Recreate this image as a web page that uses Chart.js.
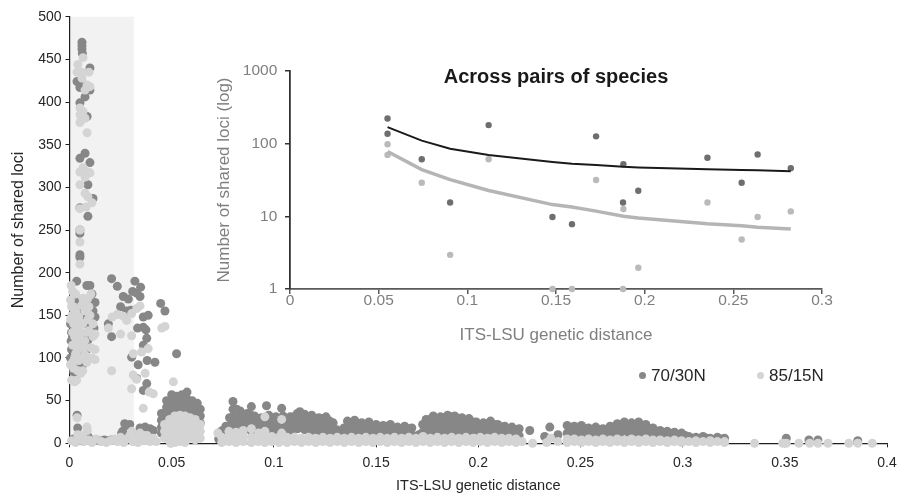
<!DOCTYPE html>
<html>
<head>
<meta charset="utf-8">
<script src="https://cdn.jsdelivr.net/npm/chart.js@4.4.1/dist/chart.umd.min.js"></script>
<style>
  html, body { margin: 0; padding: 0; background: #fff; }
  #wrap { position: relative; width: 897px; height: 497px; overflow: hidden;
          font-family: "Liberation Sans", Arial, sans-serif; }
  #main { position: absolute; left: 0; top: 0; }
  #inset { position: absolute; left: 200px; top: 50px; }
  .txt { position: absolute; white-space: nowrap; line-height: 1; }
  .dot { position: absolute; width: 7px; height: 7px; border-radius: 50%; }
</style>
</head>
<body>
<div id="wrap">
  <canvas id="main" width="897" height="497"></canvas>
  <canvas id="inset" width="650" height="300"></canvas>
  <div class="txt" id="insetTitle" style="left:556px; top:65.6px; transform:translateX(-50%); font-weight:bold; font-size:20px; color:#1a1a1a;"></div>
  <div class="dot" style="left:638.5px; top:372.2px; background:#878787;"></div>
  <div class="txt" id="leg0" style="left:651px; top:367.4px; font-size:17px; color:#262626;"></div>
  <div class="dot" style="left:756.5px; top:372.2px; background:#d4d4d4;"></div>
  <div class="txt" id="leg1" style="left:769px; top:367.4px; font-size:17px; color:#262626;"></div>
</div>
<script>
// ---- main panel: all pairwise comparisons ----
const seriesNames = ['70/30N', '85/15N'];
const mainXTicks = [0, 0.05, 0.1, 0.15, 0.2, 0.25, 0.3, 0.35, 0.4];
const mainXLabels = ['0', '0.05', '0.1', '0.15', '0.2', '0.25', '0.3', '0.35', '0.4'];
const mainYTicks = [0, 50, 100, 150, 200, 250, 300, 350, 400, 450, 500];
const mainYLabels = ['0', '50', '100', '150', '200', '250', '300', '350', '400', '450', '500'];
const withinSpeciesMax = 0.0315; // grey band

// 70/30N
const darkColumn = [[0.0061,470],[0.0061,466],[0.0061,462],[0.0063,457],[0.0100,440],[0.0037,424],[0.0051,417],[0.0061,422],[0.0100,414],[0.0076,406],[0.0051,399],[0.0086,383],[0.0076,340],[0.0051,334],[0.0100,329],[0.0090,303],[0.0115,287],[0.0051,276],[0.0090,266],[0.0051,250],[0.0051,246],[0.0051,221],[0.0051,218]];
const darkSwarm = [[0.0005,140],[0.001,130],[0.0008,120],[0.001,110],[0.0012,100],[0.0015,90],[0.002,84],[0.003,78],[0.004,125],[0.004,95],[0.005,105],[0.006,118],[0.0065,92],[0.007,128],[0.0085,110],[0.009,121],[0.0095,150],[0.010,165],[0.010,185],[0.0105,140],[0.011,132],[0.0115,155],[0.012,135],[0.0125,148],[0.0028,168],[0.0045,160],[0.006,150],[0.0075,140],[0.0035,190],[0.008,97],[0.0025,113],[0.0033,135],[0.0125,165],[0.011,175],[0.0005,100],[0.0015,125],[0.0085,185]];
const darkFloor = [[0.0037,33],[0.004,18],[0.002,5],[0.006,3],[0.009,8],[0.012,4],[0.0145,3],[0.017,4],[0.019,3],[0.0205,4],[0.0255,12],[0.027,23],[0.0286,21],[0.0295,22],[0.026,14],[0.031,10],[0.0345,18],[0.037,19],[0.0394,17],[0.041,15],[0.033,8]];
const darkScatter = [[0.0206,193],[0.0234,184],[0.032,190],[0.0348,183],[0.0263,172],[0.0288,169],[0.0309,178],[0.0329,176],[0.0345,172],[0.025,160],[0.028,155],[0.030,156],[0.0446,164],[0.0467,155],[0.019,140],[0.0206,125],[0.0361,148],[0.0385,150],[0.0333,135],[0.0374,133],[0.0361,115],[0.0524,105],[0.0304,101],[0.0336,92],[0.038,97],[0.0418,95],[0.0329,76],[0.0361,62],[0.0378,70],[0.0378,123],[0.0361,136]];
const darkMound = [[0.045,35],[0.045,27],[0.045,19],[0.045,12],[0.0475,50],[0.0475,42],[0.0475,34],[0.0475,26],[0.050,57],[0.050,49],[0.050,41],[0.050,33],[0.0525,55],[0.0525,47],[0.0525,39],[0.0525,31],[0.055,57],[0.055,49],[0.055,41],[0.055,33],[0.0575,60],[0.0575,52],[0.0575,44],[0.0575,36],[0.060,50],[0.060,42],[0.060,34],[0.0625,47],[0.0625,39],[0.0625,31],[0.064,40],[0.064,32],[0.064,24]];
const darkBand = [[0.073,12],[0.073,5],[0.0765,20],[0.0765,12],[0.080,49],[0.080,40],[0.080,31],[0.080,22],[0.080,14],[0.0835,38],[0.0835,29],[0.0835,20],[0.0835,12],[0.087,35],[0.087,26],[0.087,17],[0.089,43],[0.0905,32],[0.0905,23],[0.0905,14],[0.094,30],[0.094,21],[0.094,12],[0.0964,44],[0.0975,33],[0.0975,24],[0.0975,15],[0.101,31],[0.101,22],[0.101,13],[0.1038,41],[0.1045,32],[0.1045,23],[0.1045,14],[0.108,31],[0.108,22],[0.108,13],[0.1115,35],[0.1115,26],[0.1115,17],[0.1127,37],[0.115,34],[0.115,25],[0.115,16],[0.1185,33],[0.1185,24],[0.1185,15],[0.122,30],[0.122,21],[0.122,12],[0.1255,31],[0.1255,22],[0.1255,13],[0.129,24],[0.129,15],[0.1325,12],[0.1325,6],[0.136,26],[0.136,17],[0.136,9],[0.1395,27],[0.1395,18],[0.1395,10],[0.143,24],[0.143,15],[0.1465,25],[0.1465,16],[0.150,22],[0.150,13],[0.1535,21],[0.1535,12],[0.157,22],[0.157,13],[0.1605,19],[0.1605,11],[0.164,20],[0.164,12],[0.1675,18],[0.1675,10],[0.171,10],[0.1745,28],[0.1745,19],[0.1745,11],[0.178,32],[0.178,23],[0.178,14],[0.1815,31],[0.1815,22],[0.1815,13],[0.185,33],[0.185,24],[0.185,15],[0.1885,32],[0.1885,23],[0.1885,14],[0.192,30],[0.192,21],[0.192,12],[0.1955,29],[0.1955,20],[0.1955,11],[0.199,25],[0.199,16],[0.2025,24],[0.2025,15],[0.206,26],[0.206,17],[0.2095,22],[0.2095,13],[0.213,20],[0.213,11],[0.2165,19],[0.2165,10],[0.220,17],[0.220,9],[0.2252,15],[0.2325,8],[0.235,19],[0.239,10],[0.2435,21],[0.2435,12],[0.247,20],[0.247,11],[0.2505,21],[0.2505,12],[0.254,18],[0.254,10],[0.2575,19],[0.2575,10],[0.261,17],[0.261,9],[0.2645,20],[0.2645,11],[0.268,23],[0.268,14],[0.2715,25],[0.2715,16],[0.275,24],[0.275,15],[0.2785,25],[0.2785,16],[0.282,22],[0.282,13],[0.2855,18],[0.2855,10],[0.289,15],[0.289,8],[0.2925,14],[0.2925,7],[0.296,13],[0.296,6],[0.2995,12],[0.2995,5],[0.303,8],[0.3065,7],[0.310,8],[0.3135,6],[0.317,7],[0.3205,6]];
const darkBandFill = [[0.0748,15],[0.0783,30],[0.0783,20],[0.0818,40],[0.0818,30],[0.0818,20],[0.0853,34],[0.0853,25],[0.0853,16],[0.0888,33],[0.0888,24],[0.0888,15],[0.0923,29],[0.0923,20],[0.0958,30],[0.0958,21],[0.0993,30],[0.0993,21],[0.1028,29],[0.1028,20],[0.1063,29],[0.1063,20],[0.1098,31],[0.1098,22],[0.1133,33],[0.1133,24],[0.1168,31],[0.1168,22],[0.1203,29],[0.1203,20],[0.1238,29],[0.1238,20],[0.1273,26],[0.1273,17],[0.1308,16],[0.1308,9],[0.1343,18],[0.1343,10],[0.1378,24],[0.1378,15],[0.1413,23],[0.1413,14],[0.1448,22],[0.1448,13],[0.1483,21],[0.1483,12],[0.1518,19],[0.1518,11],[0.1553,19],[0.1553,11],[0.1588,18],[0.1588,10],[0.1623,17],[0.1623,10],[0.1658,17],[0.1658,10],[0.1728,22],[0.1728,13],[0.1763,28],[0.1763,19],[0.1798,29],[0.1798,20],[0.1833,30],[0.1833,21],[0.1868,31],[0.1868,22],[0.1903,29],[0.1903,20],[0.1938,27],[0.1938,18],[0.1973,25],[0.1973,16],[0.2008,22],[0.2008,13],[0.2043,23],[0.2043,14],[0.2078,22],[0.2078,13],[0.2113,19],[0.2113,11],[0.2148,17],[0.2148,10],[0.2183,16],[0.2183,9],[0.2453,18],[0.2453,10],[0.2488,18],[0.2488,10],[0.2523,17],[0.2523,9],[0.2558,16],[0.2558,9],[0.2593,16],[0.2593,9],[0.2628,16],[0.2628,9],[0.2663,19],[0.2663,10],[0.2698,22],[0.2698,13],[0.2733,22],[0.2733,13],[0.2768,22],[0.2768,13],[0.2803,21],[0.2803,12],[0.2838,17],[0.2838,9],[0.2873,14],[0.2873,7],[0.2908,12],[0.2908,6],[0.2943,11],[0.2943,5],[0.2978,10],[0.3013,9],[0.3048,6],[0.3118,6],[0.3188,5]];
const darkTail = [[0.3507,6],[0.3618,4],[0.3662,4],[0.3857,3]];

// 85/15N
const lightColumn = [[0.0066,452],[0.0041,444],[0.0061,435],[0.0037,435],[0.0095,435],[0.0061,428],[0.0086,420],[0.0100,418],[0.0076,414],[0.0051,393],[0.0066,389],[0.0051,385],[0.0076,381],[0.0051,376],[0.0086,364],[0.0066,323],[0.0090,318],[0.0051,318],[0.0076,312],[0.0051,303],[0.0100,317],[0.0076,293],[0.0090,289],[0.0110,282],[0.0051,275],[0.0081,277],[0.0051,250],[0.0051,236],[0.0051,210]];
const lightSwarm = [[0.0008,185],[0.0015,178],[0.0005,168],[0.002,160],[0.0012,150],[0.0005,145],[0.002,140],[0.0035,150],[0.003,155],[0.0045,148],[0.005,140],[0.006,162],[0.0065,170],[0.008,165],[0.0075,155],[0.009,170],[0.0105,175],[0.009,145],[0.0035,133],[0.0045,120],[0.0055,128],[0.0025,125],[0.0015,115],[0.003,105],[0.004,110],[0.006,100],[0.0075,104],[0.0085,95],[0.011,100],[0.0125,98],[0.0115,125],[0.0125,128],[0.0015,95],[0.0005,92],[0.002,88],[0.004,85],[0.0055,82],[0.0035,74],[0.0025,72],[0.001,74],[0.0105,112],[0.0095,132],[0.0015,130],[0.003,118],[0.005,115],[0.007,112],[0.0085,130],[0.0065,140],[0.0045,135],[0.0075,120],[0.010,150],[0.0115,140],[0.0095,160],[0.0025,100],[0.0045,97],[0.0065,85],[0.001,160],[0.003,175],[0.0125,110]];
const lightFloor = [[0.0037,30],[0.0085,19],[0.0087,15],[0.001,3],[0.003,1],[0.005,6],[0.007,2],[0.0095,4],[0.011,1],[0.013,5],[0.0155,2],[0.018,1],[0.02,3],[0.004,10],[0.0065,9],[0.022,5],[0.0235,2],[0.025,7],[0.0265,1],[0.028,5],[0.0295,9],[0.031,2],[0.032,6],[0.0335,1],[0.035,7],[0.0365,3],[0.038,9],[0.0395,2],[0.041,6],[0.0425,2],[0.0345,12],[0.0305,14]];
const lightScatter = [[0.0209,148],[0.0234,151],[0.019,135],[0.0263,149],[0.028,144],[0.0304,152],[0.0329,158],[0.0345,161],[0.025,128],[0.0304,126],[0.0451,135],[0.0467,137],[0.0312,105],[0.0353,107],[0.0385,111],[0.0206,85],[0.0312,80],[0.037,82],[0.039,60],[0.0361,41],[0.041,58],[0.0304,64],[0.0329,75],[0.0508,72]];
const lightMound = [[0.0465,22],[0.0465,14],[0.0465,6],[0.049,28],[0.049,20],[0.049,12],[0.049,4],[0.0515,32],[0.0515,24],[0.0515,16],[0.0515,8],[0.0515,1],[0.054,33],[0.054,25],[0.054,17],[0.054,9],[0.054,2],[0.0565,32],[0.0565,24],[0.0565,16],[0.0565,8],[0.0565,1],[0.059,30],[0.059,22],[0.059,14],[0.059,6],[0.0615,28],[0.0615,20],[0.0615,12],[0.0615,4],[0.064,22],[0.064,14],[0.064,6],[0.0495,0]];
const lightBand = [[0.0726,12],[0.0745,1],[0.0745,7],[0.078,2],[0.078,8],[0.078,14],[0.0815,1],[0.0815,7],[0.0815,13],[0.085,2],[0.085,8],[0.085,15],[0.089,17],[0.089,1],[0.089,7],[0.0925,2],[0.0925,8],[0.0925,12],[0.0956,31],[0.0956,1],[0.0956,8],[0.0956,14],[0.099,2],[0.099,8],[0.1025,1],[0.1025,7],[0.1038,28],[0.1038,12],[0.1065,1],[0.1065,7],[0.110,2],[0.110,7],[0.1135,1],[0.1135,6],[0.117,2],[0.117,7],[0.1205,1],[0.1205,6],[0.124,2],[0.124,7],[0.1275,1],[0.1275,6],[0.131,2],[0.131,7],[0.1345,1],[0.1345,6],[0.138,2],[0.138,7],[0.1415,1],[0.1415,6],[0.145,2],[0.145,7],[0.1485,1],[0.1485,6],[0.152,2],[0.152,7],[0.1555,1],[0.1555,6],[0.159,2],[0.159,7],[0.1625,1],[0.1625,6],[0.166,2],[0.166,7],[0.1695,1],[0.1695,6],[0.173,2],[0.173,8],[0.1765,1],[0.1765,6],[0.180,2],[0.180,7],[0.1835,1],[0.1835,6],[0.187,2],[0.187,7],[0.1905,1],[0.1905,6],[0.194,2],[0.194,7],[0.1975,1],[0.1975,6],[0.201,2],[0.201,7],[0.2045,1],[0.2045,6],[0.208,2],[0.208,7],[0.2115,1],[0.2115,6],[0.215,2],[0.215,6],[0.2185,1],[0.2185,5],[0.2215,2],[0.2266,0],[0.2335,1],[0.2355,6],[0.239,2],[0.2435,1],[0.2435,5],[0.247,2],[0.247,5],[0.2505,1],[0.2505,4],[0.254,2],[0.254,5],[0.2575,1],[0.2575,4],[0.261,2],[0.261,5],[0.2645,1],[0.2645,4],[0.268,2],[0.268,5],[0.2715,1],[0.2715,4],[0.275,2],[0.275,5],[0.2785,1],[0.2785,4],[0.282,2],[0.282,5],[0.2855,1],[0.2855,4],[0.289,2],[0.289,4],[0.2925,1],[0.2925,3],[0.296,2],[0.296,4],[0.2995,1],[0.2995,3],[0.303,2],[0.3065,1],[0.3065,3],[0.310,2],[0.3135,1],[0.3135,3],[0.317,2],[0.3205,1],[0.3205,2]];
const lightTail = [[0.3352,0],[0.349,0],[0.3507,0],[0.3569,0],[0.3622,0],[0.3662,0],[0.3711,0],[0.3813,0],[0.3857,0],[0.3928,0]];

// ---- inset: across pairs of species (log scale) ----
const insetTitle = 'Across pairs of species';
const insetXTicks = [0, 0.05, 0.1, 0.15, 0.2, 0.25, 0.3];
const insetXLabels = ['0', '0.05', '0.1', '0.15', '0.2', '0.25', '0.3'];
const insetYTicks = [1, 10, 100, 1000];
const insetYLabels = ['1', '10', '100', '1000'];
const pairsDark = [[0.055,222],[0.055,137],[0.0743,61],[0.0903,15.5],[0.112,180],[0.1726,126],[0.188,52],[0.1878,15.5],[0.1964,22.5],[0.148,9.8],[0.159,7.8],[0.2354,64],[0.2547,29],[0.2637,71],[0.2824,46]];
const pairsLight = [[0.055,98],[0.055,70],[0.0743,29],[0.0903,2.95],[0.112,61],[0.1726,31.6],[0.188,12.6],[0.1964,1.96],[0.148,1],[0.159,1],[0.1878,1],[0.2354,15.5],[0.2547,4.8],[0.2637,9.8],[0.2824,11.7]];
const trendDark = [[0.055,169],[0.0743,110],[0.0903,85],[0.112,70],[0.148,56],[0.159,53],[0.1726,51],[0.188,48],[0.1964,47],[0.2354,44.5],[0.2547,43.5],[0.2637,43],[0.2824,41.7]];
const trendLight = [[0.055,78],[0.0743,44],[0.0903,32],[0.112,22.7],[0.148,14.5],[0.159,13.4],[0.1726,11.8],[0.188,10],[0.1964,9.5],[0.2354,7.9],[0.2547,7.4],[0.2637,7.1],[0.2824,6.7]];

const xy = arr => arr.map(([x, y]) => ({ x, y }));
const FONT = '"Liberation Sans", Arial, sans-serif';
Chart.defaults.font.family = FONT;

document.getElementById('insetTitle').textContent = insetTitle;
document.getElementById('leg0').textContent = seriesNames[0];
document.getElementById('leg1').textContent = seriesNames[1];

const shadePlugin = {
  id: 'shade',
  beforeDraw(chart) {
    const { ctx, scales: { x, y } } = chart;
    const x0 = x.getPixelForValue(0), x1 = x.getPixelForValue(withinSpeciesMax);
    const y0 = y.getPixelForValue(500), y1 = y.getPixelForValue(0);
    ctx.save();
    ctx.fillStyle = '#f2f2f2';
    ctx.fillRect(x0, y0, x1 - x0, y1 - y0);
    ctx.restore();
  }
};

const dotStyle = (color, order) => ({
  backgroundColor: color, borderWidth: 0, pointRadius: 4.5, pointHoverRadius: 4.5,
  order, clip: false
});

new Chart(document.getElementById('main'), {
  type: 'scatter',
  data: {
    datasets: [
      { label: seriesNames[0], data: xy([].concat(darkColumn, darkSwarm, darkFloor, darkScatter, darkMound, darkBand, darkBandFill, darkTail)), ...dotStyle('#878787', 2) },
      { label: seriesNames[1], data: xy([].concat(lightColumn, lightSwarm, lightFloor, lightScatter, lightMound, lightBand, lightTail)), ...dotStyle('#d4d4d4', 1) }
    ]
  },
  options: {
    responsive: false, animation: false, events: [],
    layout: { padding: { left: 0, top: 16.7, right: 10, bottom: 0 } },
    plugins: { legend: { display: false }, tooltip: { enabled: false } },
    scales: {
      x: {
        type: 'linear', min: 0, max: 0.4,
        afterBuildTicks: s => { s.ticks = mainXTicks.map(value => ({ value })); },
        afterFit: s => { s.height = 53.7; s.paddingLeft = 0; s.paddingRight = 0; },
        grid: { drawOnChartArea: false, color: '#1f1f1f', tickLength: 4 },
        border: { color: '#1f1f1f', width: 1.2 },
        ticks: { color: '#262626', font: { size: 14 }, padding: 7.5, maxRotation: 0, autoSkip: false,
                 callback: (v, i) => mainXLabels[i] },
        title: { display: true, text: 'ITS-LSU genetic distance', color: '#262626',
                 font: { size: 14.5 }, padding: { top: 0, bottom: 2.3 } }
      },
      y: {
        type: 'linear', min: 0, max: 500,
        afterBuildTicks: s => { s.ticks = mainYTicks.map(value => ({ value })); },
        afterFit: s => { s.width = 69.5; s.paddingTop = 0; s.paddingBottom = 0; },
        grid: { drawOnChartArea: false, color: '#1f1f1f', tickLength: 4 },
        border: { color: '#1f1f1f', width: 1.2 },
        ticks: { color: '#262626', font: { size: 14 }, padding: 4, autoSkip: false,
                 callback: (v, i) => mainYLabels[i] },
        title: { display: true, text: 'Number of shared loci', color: '#262626',
                 font: { size: 16 }, padding: { top: 9.4, bottom: 0 } }
      }
    }
  },
  plugins: [shadePlugin]
});

new Chart(document.getElementById('inset'), {
  type: 'scatter',
  data: {
    datasets: [
      { data: xy(trendDark), showLine: true, borderColor: '#1a1a1a', borderWidth: 2, pointRadius: 0, tension: 0, order: 0, clip: false },
      { data: xy(trendLight), showLine: true, borderColor: '#b5b5b5', borderWidth: 3.5, pointRadius: 0, tension: 0, order: 0, clip: false },
      { data: xy(pairsDark), backgroundColor: '#6e6e6e', borderWidth: 0, pointRadius: 3.2, order: 1, clip: false },
      { data: xy(pairsLight), backgroundColor: '#bababa', borderWidth: 0, pointRadius: 3.2, order: 1, clip: false }
    ]
  },
  options: {
    responsive: false, animation: false, events: [],
    layout: { padding: { left: 0, top: 21, right: 28, bottom: 0 } },
    plugins: { legend: { display: false }, tooltip: { enabled: false } },
    scales: {
      x: {
        type: 'linear', min: 0, max: 0.3,
        afterBuildTicks: s => { s.ticks = insetXTicks.map(value => ({ value })); },
        afterFit: s => { s.height = 61; s.paddingLeft = 0; s.paddingRight = 0; },
        grid: { drawOnChartArea: false, color: '#595959', tickLength: 5, lineWidth: 1.5 },
        border: { color: '#595959', width: 1.8 },
        ticks: { color: '#7f7f7f', font: { size: 15.5, lineHeight: 1 }, padding: -1, maxRotation: 0, autoSkip: false,
                 callback: (v, i) => insetXLabels[i] },
        title: { display: true, text: 'ITS-LSU genetic distance', color: '#7f7f7f',
                 font: { size: 17 }, padding: { top: 0, bottom: 4.8 } }
      },
      y: {
        type: 'logarithmic', min: 1, max: 1000,
        afterBuildTicks: s => { s.ticks = insetYTicks.map(value => ({ value })); },
        afterFit: s => { s.width = 90; s.paddingTop = 0; s.paddingBottom = 0; },
        grid: { drawOnChartArea: false, color: '#333333', tickLength: 5, lineWidth: 1.5 },
        border: { color: '#333333', width: 1.8 },
        ticks: { color: '#7f7f7f', font: { size: 15.5 }, padding: 7.7, autoSkip: false,
                 callback: (v, i) => insetYLabels[i] },
        title: { display: true, text: 'Number of shared loci (log)', color: '#7f7f7f',
                 font: { size: 17 }, padding: { top: 13.8, bottom: 0 } }
      }
    }
  }
});
</script>
</body>
</html>
